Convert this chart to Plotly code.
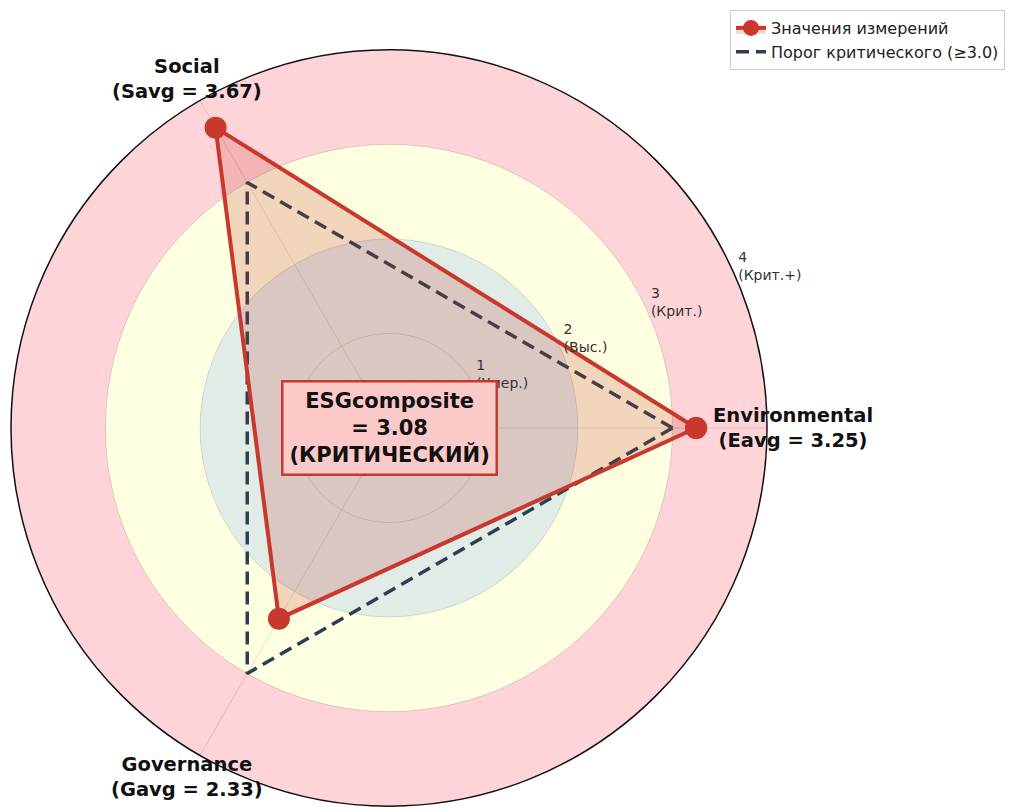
import math
import plotly.graph_objects as go

# ---- data ----
dimensions = ["Environmental", "Social", "Governance"]
dim_abbr = ["Eavg", "Savg", "Gavg"]
dim_angles = [0, 120, 240]
values = [3.25, 3.67, 2.33]
threshold = 3.0
composite = 3.08
composite_status = "КРИТИЧЕСКИЙ"

band_edges = [0, 2, 3, 4]
band_colors = ["rgba(196,218,205,0.5)", "rgba(253,253,199,0.55)", "rgba(255,170,178,0.5)"]

radial_ticks = [1, 2, 3, 4]
radial_tick_names = ["Умер.", "Выс.", "Крит.", "Крит.+"]

legend_names = ["Значения измерений", "Порог критического (≥3.0)"]

# ---- layout geometry (page has an 8px body margin) ----
W, H = 1005, 804
CX, CY, RPX = 381, 420, 378      # polar centre and radius in figure pixels
RMAX = 4
FONT = "DejaVu Sans"
RED = "#c9382c"
DARK = "#2c3e50"

dx = [(CX - RPX) / W, (CX + RPX) / W]
dy = [1 - (CY + RPX) / H, 1 - (CY - RPX) / H]


def to_paper(r, theta_deg):
    px = CX + r / RMAX * RPX * math.cos(math.radians(theta_deg))
    py = CY - r / RMAX * RPX * math.sin(math.radians(theta_deg))
    return px / W, 1 - py / H


fig = go.Figure()

# background bands
for i in range(len(band_edges) - 1):
    fig.add_trace(go.Barpolar(
        r=[band_edges[i + 1] - band_edges[i]], base=[band_edges[i]],
        theta=[0], width=[360],
        marker=dict(color=band_colors[i], line=dict(width=0)),
        showlegend=False, hoverinfo="skip"))

# threshold
th_r = [threshold] * len(dim_angles)
fig.add_trace(go.Scatterpolar(
    r=th_r + [th_r[0]], theta=dim_angles + [dim_angles[0]],
    mode="lines", name=legend_names[1],
    line=dict(color=DARK, width=3.5, dash="13px,7px")))

# measured values
fig.add_trace(go.Scatterpolar(
    r=values + [values[0]], theta=dim_angles + [dim_angles[0]],
    mode="lines+markers", name=legend_names[0],
    fill="toself", fillcolor="rgba(192,57,43,0.2)",
    line=dict(color=RED, width=4),
    marker=dict(color=RED, size=22)))

# radial tick labels
fig.add_trace(go.Scatterpolar(
    r=radial_ticks, theta=[22.5] * len(radial_ticks), mode="text",
    text=[f"{t}<br>({n})" for t, n in zip(radial_ticks, radial_tick_names)],
    textposition="top right", textfont=dict(family=FONT, size=14, color="#333333"),
    showlegend=False, hoverinfo="skip", cliponaxis=False))

annotations = []
# dimension labels
for d, a, v, ang in zip(dimensions, dim_abbr, values, dim_angles):
    xp, yp = to_paper(4.27, ang)
    annotations.append(dict(
        x=xp, y=yp, xref="paper", yref="paper", showarrow=False,
        text=f"<b>{d}<br>({a} = {v:.2f})</b>", align="center",
        font=dict(family=FONT, size=19.5, color="#111111"),
        xanchor="center", yanchor="middle"))

# composite box
annotations.append(dict(
    x=CX / W, y=1 - CY / H, xref="paper", yref="paper",
    text=f"<b>ESGcomposite<br>= {composite:.2f}<br>({composite_status})</b>",
    showarrow=False, font=dict(family=FONT, size=21, color="#111111"),
    bgcolor="#fcc9c9", bordercolor=RED, borderwidth=2.5, borderpad=6,
    xanchor="center", yanchor="middle"))

fig.update_layout(
    width=W, height=H,
    margin=dict(l=0, r=0, t=0, b=0),
    paper_bgcolor="white",
    font=dict(family=FONT, color="#222222"),
    polar=dict(
        domain=dict(x=dx, y=dy),
        bgcolor="white",
        radialaxis=dict(range=[0, RMAX], tickvals=radial_ticks, showticklabels=False,
                        ticks="", showline=False, gridcolor="rgba(150,150,150,0.55)", gridwidth=1),
        angularaxis=dict(tickmode="array", tickvals=dim_angles, showticklabels=False,
                         ticks="", showline=True, linecolor="#111111", linewidth=1.5,
                         gridcolor="rgba(150,150,150,0.55)", gridwidth=1,
                         direction="counterclockwise", rotation=0),
    ),
    legend=dict(x=722 / W, y=1 - 2 / H, xanchor="left", yanchor="top",
                bgcolor="white", bordercolor="#cccccc", borderwidth=1,
                font=dict(family=FONT, size=16, color="#222222"),
                traceorder="reversed"),
    annotations=annotations,
)

fig.write_html("out.html")
